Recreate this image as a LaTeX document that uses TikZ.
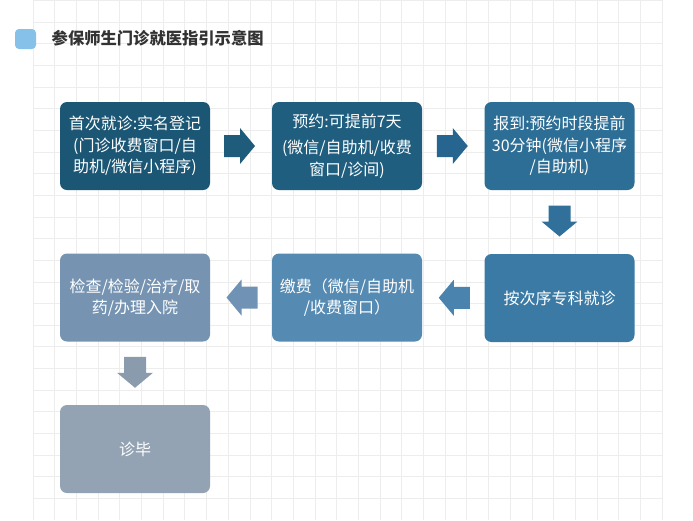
\documentclass[tikz,border=0pt]{standalone}
\usepackage{fontspec}
\setmainfont{Noto Sans CJK SC}
\usetikzlibrary{calc}
\definecolor{gridc}{HTML}{EDEDED}
\definecolor{iconc}{HTML}{85C1E9}
\definecolor{titlec}{HTML}{333333}
\definecolor{c1}{HTML}{1B5675}
\definecolor{c2}{HTML}{1F5E7F}
\definecolor{c3}{HTML}{2C6E95}
\definecolor{c4}{HTML}{3B7AA5}
\definecolor{c5}{HTML}{558AB2}
\definecolor{c6}{HTML}{7694B2}
\definecolor{c7}{HTML}{93A3B3}
\definecolor{a1}{HTML}{1F5B7B}
\definecolor{a2}{HTML}{256590}
\definecolor{a3}{HTML}{30709A}
\definecolor{a4}{HTML}{4A83AE}
\definecolor{a5}{HTML}{6F92B5}
\definecolor{a6}{HTML}{8B9BAE}
\tikzset{
  box/.style={rounded corners=7pt, minimum width=150pt, minimum height=88pt,
    text=white, align=center, inner sep=0pt,
    font=\fontsize{16}{21.5}\selectfont},
  gridline/.style={gridc, line width=0.7pt},
  pics/blockarrow/.style={code={
    \path[pic actions] (-15.5,-11)--(0.5,-11)--(0.5,-18)--(15.5,0)--(0.5,18)--(0.5,11)--(-15.5,11)--cycle;}}
}
\begin{document}
\begin{tikzpicture}[x=1pt,y=-1pt]
\useasboundingbox (0,0) rectangle (693,520);
\fill[white] (0,0) rectangle (693,520);
% grid
\foreach \i in {0,...,29} {\draw[gridline] ({33+21.69*\i},0) -- ({33+21.69*\i},520);}
\foreach \j in {0,...,23} {\draw[gridline] (33,{0.4+21.65*\j}) -- (662,{0.4+21.65*\j});}
% title
\fill[iconc, rounded corners=4pt] (15,29) rectangle (36,49);
\node[anchor=west, inner sep=0pt, text=titlec, font=\fontsize{16.3}{18}\selectfont\bfseries] (title) at (51.5,38) {参保师生门诊就医指引示意图};
% boxes
\node[box, fill=c1] (b1) at (135,146) {首次就诊:实名登记\\(门诊收费窗口/自\\助机/微信小程序)};
\node[box, fill=c2] (b2) at (347,146) {预约:可提前7天\\[5pt](微信/自助机/收费\\窗口/诊间)};
\node[box, fill=c3] (b3) at (559.5,146) {报到:预约时段提前\\30分钟(微信小程序\\/自助机)};
\node[box, fill=c4] (b4) at (559.5,298) {按次序专科就诊};
\node[box, fill=c5] (b5) at (347,297.5) {缴费（微信/自助机\\/收费窗口）};
\node[box, fill=c6] (b6) at (135,297.5) {检查/检验/治疗/取\\药/办理入院};
\node[box, fill=c7] (b7) at (135,449) {诊毕};
% arrows
\coordinate (p1) at ($(b1.east)!0.5!(b2.west)+(-1.5,0)$);
\coordinate (p2) at ($(b2.east)!0.5!(b3.west)+(-1,0)$);
\coordinate (p3) at ($(b3.south)!0.5!(b4.north)+(0,-1)$);
\coordinate (p4) at ($(b4.west)!0.5!(b5.east)+(1,0)$);
\coordinate (p5) at ($(b5.west)!0.5!(b6.east)+(1,0)$);
\coordinate (p6) at ($(b6.south)!0.5!(b7.north)+(0,-1)$);
\pic[fill=a1] at (p1) {blockarrow};
\pic[fill=a2] at (p2) {blockarrow};
\pic[fill=a3, rotate=-90] at (p3) {blockarrow};
\pic[fill=a4, rotate=180] at (p4) {blockarrow};
\pic[fill=a5, rotate=180] at (p5) {blockarrow};
\pic[fill=a6, rotate=-90] at (p6) {blockarrow};
\end{tikzpicture}
\end{document}
